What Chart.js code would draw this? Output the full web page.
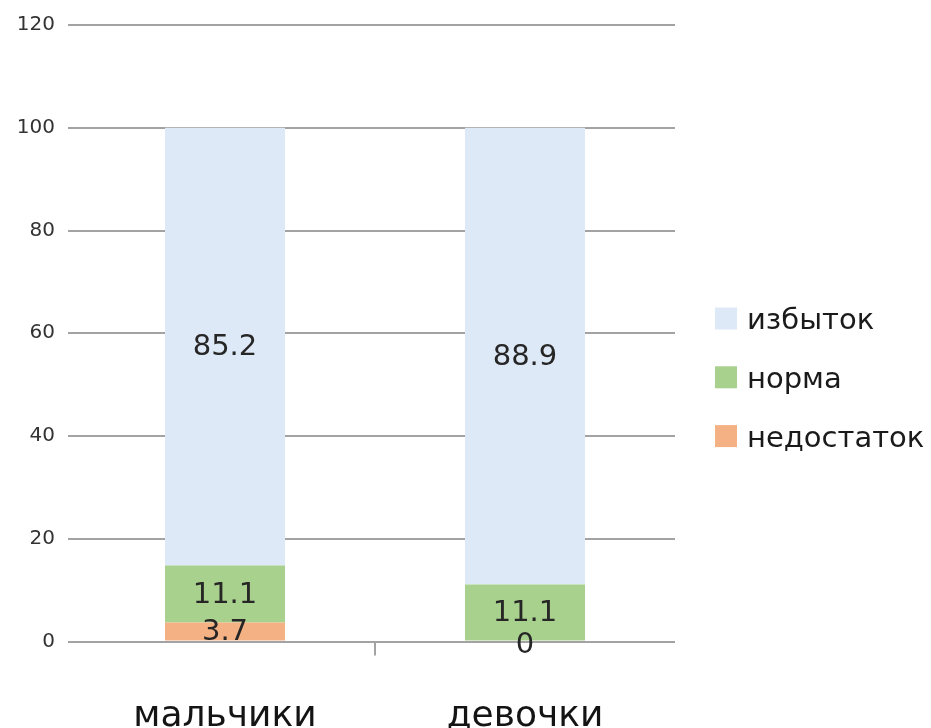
<!DOCTYPE html>
<html>
<head>
<meta charset="utf-8">
<script src="https://cdn.jsdelivr.net/npm/chart.js@4/dist/chart.umd.min.js"></script>
<style>
  html, body { margin: 0; padding: 0; background: #ffffff; }
  #wrap { width: 931px; height: 728px; position: relative; }
</style>
</head>
<body>
<div id="wrap"><canvas id="c" width="931" height="728"></canvas></div>
<script>
// Groups along the x axis
const categories = ['мальчики', 'девочки'];

// Share of children in each group, percent (stacked bottom to top)
const shortage = [3.7, 0];     // недостаток
const normal   = [11.1, 11.1]; // норма
const excess   = [85.2, 88.9]; // избыток

// Value axis ticks
const yTicks = [0, 20, 40, 60, 80, 100, 120];

const FONT = '"DejaVu Sans", sans-serif';
const GRID = '#a3a3a3';

// Writes each segment's value in its middle
const valueLabels = {
  id: 'valueLabels',
  afterDatasetsDraw(chart) {
    const ctx = chart.ctx;
    ctx.save();
    ctx.font = '29px ' + FONT;
    ctx.fillStyle = '#262626';
    ctx.textAlign = 'center';
    ctx.textBaseline = 'middle';
    chart.data.datasets.forEach((ds, di) => {
      const meta = chart.getDatasetMeta(di);
      meta.data.forEach((bar, i) => {
        const v = ds.data[i];
        const { x, y, base } = bar.getProps(['x', 'y', 'base'], true);
        const cy = v === 0 ? base + 4 : (y + base) / 2 + 1;
        ctx.fillText(String(v), x, cy);
      });
    });
    ctx.restore();
  }
};

// Legend to the right of the plot, top series first
const sideLegend = {
  id: 'sideLegend',
  afterDraw(chart) {
    const ctx = chart.ctx;
    const items = chart.data.datasets.slice().reverse();
    const x0 = 715, y0 = 318.5, step = 58.8, box = 22;
    ctx.save();
    ctx.font = '29px ' + FONT;
    ctx.textAlign = 'left';
    ctx.textBaseline = 'middle';
    items.forEach((ds, k) => {
      const cy = y0 + k * step;
      ctx.fillStyle = ds.backgroundColor;
      ctx.fillRect(x0, cy - box / 2, box, box);
      ctx.fillStyle = '#1a1a1a';
      ctx.fillText(ds.label, x0 + 32, cy + 3);
    });
    ctx.restore();
  }
};

new Chart(document.getElementById('c'), {
  type: 'bar',
  data: {
    labels: categories,
    datasets: [
      { label: 'недостаток', data: shortage, backgroundColor: '#f4b183' },
      { label: 'норма', data: normal, backgroundColor: '#a9d18e' },
      { label: 'избыток', data: excess, backgroundColor: '#dde9f6' }
    ]
  },
  options: {
    responsive: false,
    animation: false,
    devicePixelRatio: 1,
    layout: { padding: { top: 23, right: 256, bottom: 0, left: 0 } },
    datasets: { bar: { barPercentage: 0.4, categoryPercentage: 1, borderWidth: 0 } },
    plugins: {
      legend: { display: false },
      tooltip: { enabled: false }
    },
    scales: {
      x: {
        stacked: true,
        border: { display: false },
        grid: {
          offset: true,
          drawOnChartArea: false,
          drawTicks: true,
          tickLength: 14,
          lineWidth: 2,
          color: (c) => (c.index === 1 ? GRID : 'rgba(0,0,0,0)')
        },
        ticks: {
          font: { family: FONT, size: 36 },
          color: '#141414',
          padding: 40,
          maxRotation: 0
        },
        afterFit: (s) => { s.height = 86.5; }
      },
      y: {
        stacked: true,
        min: 0,
        max: 120,
        border: { display: false },
        afterBuildTicks: (s) => { s.ticks = yTicks.map(v => ({ value: v })); },
        grid: { color: GRID, lineWidth: 2, tickLength: 7 },
        ticks: {
          font: { family: FONT, size: 20 },
          color: '#333333',
          padding: 13
        },
        afterFit: (s) => { s.width = 75; }
      }
    }
  },
  plugins: [valueLabels, sideLegend]
});
</script>
</body>
</html>
